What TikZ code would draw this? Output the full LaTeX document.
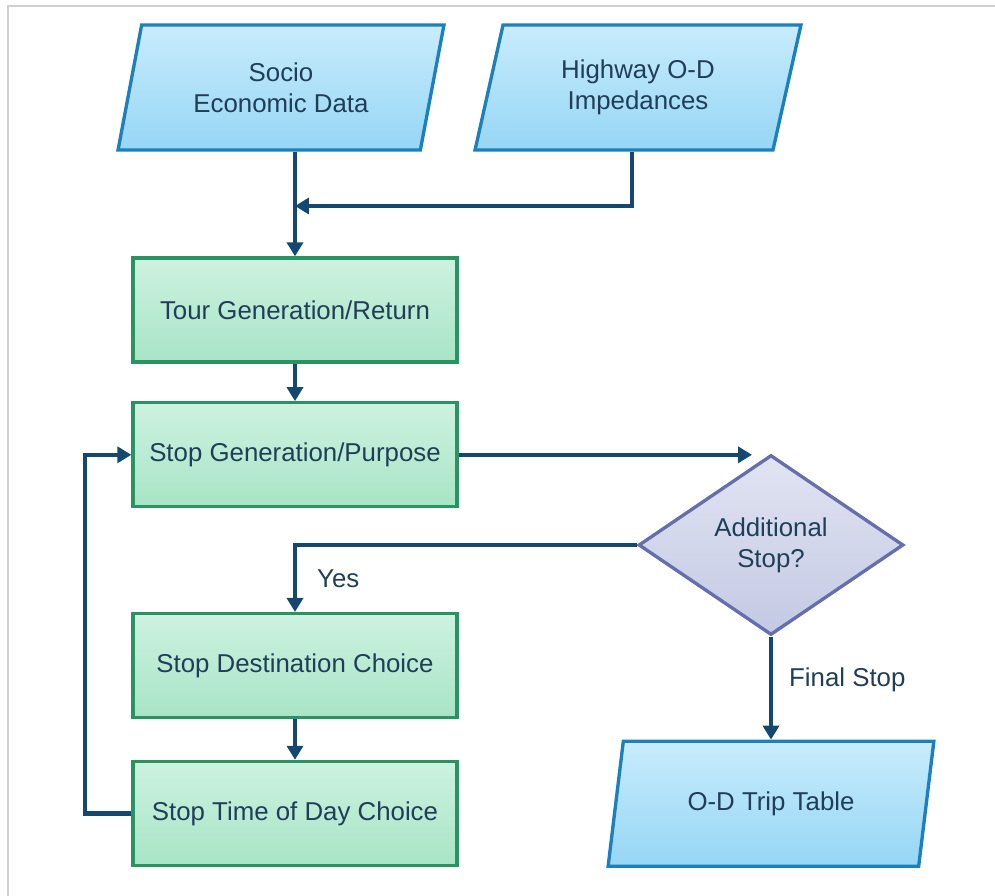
\documentclass[tikz,border=0pt]{standalone}
\usepackage{fontspec}
\setmainfont{Liberation Sans}
\usetikzlibrary{shapes.geometric, positioning, arrows.meta}
\definecolor{ioTop}{RGB}{200,236,252}
\definecolor{ioBot}{RGB}{150,214,245}
\definecolor{ioLine}{RGB}{28,128,188}
\definecolor{procTop}{RGB}{205,242,224}
\definecolor{procBot}{RGB}{168,228,198}
\definecolor{procLine}{RGB}{40,148,98}
\definecolor{decTop}{RGB}{225,228,242}
\definecolor{decBot}{RGB}{196,201,228}
\definecolor{decLine}{RGB}{102,110,172}
\definecolor{flowCol}{RGB}{20,72,112}
\definecolor{txtCol}{RGB}{32,62,88}
\definecolor{frameCol}{RGB}{208,208,208}
\tikzset{
	>={Triangle[length=0.28cm, width=0.32cm]},
	every node/.style={font=\fontsize{14.7}{17.6}\selectfont, text=txtCol},
	io/.style={trapezium, trapezium left angle=75.6, trapezium right angle=104.4,
		trapezium stretches=true, minimum width=6.52cm, minimum height=2.5cm,
		draw=ioLine, line width=1.9pt, top color=ioTop, bottom color=ioBot, align=center},
	process/.style={rectangle, minimum width=6.48cm, minimum height=2.08cm,
		draw=procLine, line width=1.9pt, top color=procTop, bottom color=procBot},
	decision/.style={diamond, minimum width=5.3cm, minimum height=3.6cm, inner sep=0pt,
		draw=decLine, line width=1.9pt, top color=decTop, bottom color=decBot, align=center},
	flow/.style={->, draw=flowCol, line width=2.5pt},
	lbl/.style={inner sep=0pt}
}

\begin{document}
\begin{tikzpicture}[x=0.02cm, y=-0.02cm]
		\useasboundingbox (0,0) rectangle (995,896);
		\draw[frameCol, line width=1.2pt] (8,896) -- (8,6) -- (995,6);
		
		% inputs
		\node[io] (socio) at (281,87.5) {Socio\\Economic Data};
		\node[io] (hwy) at (638,87.5) {Highway O-D\\Impedances};
		
		% model steps
		\node[process] (tour) at (295,310) {Tour Generation/Return};
		\node[process, below=0.75cm of tour] (gen) {Stop Generation/Purpose};
		\node[process, below=2.07cm of gen] (dest) {Stop Destination Choice};
		\node[process, below=0.81cm of dest] (time) {Stop Time of Day Choice};
		
		\node[decision] (dec) at (771,545) {Additional\\Stop?};
		\node[io, below=2.06cm of dec] (trip) {O-D Trip Table};
		
		\coordinate (merge) at (295,206);
		
		\draw[flow] (tour.north |- socio.south) -- (tour.north);
		\draw[flow] ([xshift=-0.12cm]hwy.south) |- (merge);
		\draw[flow] (tour) -- (gen);
		\draw[flow, shorten >=0.38cm] (gen.east) -- (gen.east -| dec.north);
		\draw[flow] (dec.west) -| node[lbl, pos=0.75, right=0.4cm] {Yes} (dest.north);
		\draw[flow] (dest) -- (time);
		\draw[flow] (time.west) -- ++(-0.93cm,0) |- (gen.west);
		\draw[flow] (dec.south) -- node[lbl, pos=0.42, right=0.32cm] {Final Stop} (trip.north);
	\end{tikzpicture}
\end{document}
